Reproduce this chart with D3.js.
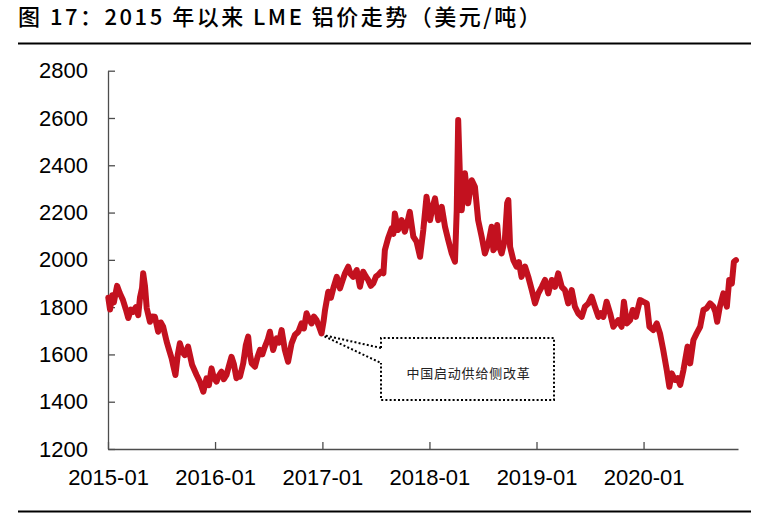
<!DOCTYPE html>
<html><head><meta charset="utf-8">
<script src="https://cdn.jsdelivr.net/npm/d3@7"></script>
<style>html,body{margin:0;padding:0;background:#fff}svg{display:block}</style>
</head><body>
<svg id="chart" width="776" height="516"></svg>
<script>
const titleText = "图 17：2015 年以来 LME 铝价走势（美元/吨）";
const noteText = "中国启动供给侧改革";
const noteDate = "2016-12-29";
const yTickValues = [1200, 1400, 1600, 1800, 2000, 2200, 2400, 2600, 2800];
const xTickLabels = ["2015-01", "2016-01", "2017-01", "2018-01", "2019-01", "2020-01"];

const dates = [
"2015-01-02","2015-01-08","2015-01-15","2015-01-21","2015-02-01","2015-02-10","2015-02-21","2015-03-03","2015-03-11","2015-03-20",
"2015-03-27","2015-04-06","2015-04-14","2015-04-20","2015-04-27","2015-05-01","2015-05-07","2015-05-13","2015-05-24","2015-05-31",
"2015-06-10","2015-06-21","2015-06-30","2015-07-08","2015-07-20","2015-07-28","2015-08-06","2015-08-12","2015-08-19","2015-08-27",
"2015-09-03","2015-09-12","2015-09-20","2015-10-01","2015-10-15","2015-10-30","2015-11-10","2015-11-22","2015-12-03","2015-12-11",
"2015-12-20","2015-12-28","2016-01-06","2016-01-14","2016-01-23","2016-01-31","2016-02-09","2016-02-17","2016-02-26","2016-03-05",
"2016-03-14","2016-03-22","2016-03-26","2016-04-06","2016-04-15","2016-04-23","2016-04-29","2016-05-05","2016-05-16","2016-05-25",
"2016-06-02","2016-06-10","2016-06-19","2016-06-28","2016-07-06","2016-07-17","2016-07-29","2016-08-06","2016-08-15","2016-08-26",
"2016-09-06","2016-09-18","2016-09-29","2016-10-11","2016-10-22","2016-10-30","2016-11-08","2016-11-16","2016-11-25","2016-12-03",
"2016-12-12","2016-12-20","2016-12-29","2017-01-05","2017-01-10","2017-01-21","2017-01-30","2017-02-07","2017-02-19","2017-03-02",
"2017-03-10","2017-03-19","2017-03-30","2017-04-07","2017-04-16","2017-04-28","2017-05-09","2017-05-20","2017-05-29","2017-06-06",
"2017-06-15","2017-06-23","2017-07-03","2017-07-10","2017-07-20","2017-07-28","2017-08-02","2017-08-13","2017-08-25","2017-08-31",
"2017-09-05","2017-09-16","2017-09-28","2017-10-09","2017-10-18","2017-10-26","2017-11-07","2017-11-18","2017-11-30","2017-12-11",
"2017-12-22","2018-01-03","2018-01-11","2018-01-20","2018-01-31","2018-02-12","2018-02-23","2018-03-06","2018-03-18","2018-03-29",
"2018-04-04","2018-04-09","2018-04-15","2018-04-21","2018-04-27","2018-05-02","2018-05-13","2018-05-25","2018-06-05","2018-06-16",
"2018-06-28","2018-07-09","2018-07-21","2018-08-01","2018-08-07","2018-08-12","2018-08-20","2018-08-26","2018-09-04","2018-09-15",
"2018-09-23","2018-09-27","2018-10-03","2018-10-14","2018-10-25","2018-11-02","2018-11-11","2018-11-23","2018-12-04","2018-12-16",
"2018-12-27","2019-01-07","2019-01-19","2019-01-30","2019-02-10","2019-02-22","2019-03-05","2019-03-16","2019-03-28","2019-04-08",
"2019-04-19","2019-05-01","2019-05-12","2019-05-23","2019-06-04","2019-06-15","2019-06-27","2019-07-08","2019-07-19","2019-07-31",
"2019-08-09","2019-08-17","2019-08-28","2019-09-09","2019-09-20","2019-10-07","2019-10-18","2019-10-26","2019-11-05","2019-11-16",
"2019-11-25","2019-12-06","2019-12-20","2019-12-31","2020-01-12","2020-01-21","2020-02-03","2020-02-15","2020-02-26","2020-03-08",
"2020-03-20","2020-03-29","2020-04-06","2020-04-17","2020-04-26","2020-05-05","2020-05-16","2020-05-30","2020-06-08","2020-06-19",
"2020-06-30","2020-07-12","2020-07-23","2020-08-03","2020-08-15","2020-08-26","2020-09-02","2020-09-08","2020-09-17","2020-09-29",
"2020-10-11","2020-10-19","2020-10-28","2020-11-04","2020-11-11"
];
const prices = [
1840,1790,1850,1820,1890,1860,1830,1790,1754,1790,
1780,1800,1766,1840,1880,1943,1890,1796,1738,1760,
1759,1696,1735,1717,1654,1620,1583,1550,1513,1600,
1647,1610,1597,1633,1555,1513,1485,1442,1499,1470,
1541,1500,1485,1510,1527,1495,1513,1550,1590,1560,
1499,1520,1506,1562,1640,1675,1600,1562,1548,1590,
1619,1600,1633,1660,1696,1619,1668,1650,1703,1619,
1569,1647,1682,1696,1731,1710,1774,1750,1731,1760,
1745,1720,1689,1740,1788,1865,1840,1879,1928,1879,
1910,1943,1971,1940,1928,1957,1886,1950,1930,1915,
1890,1900,1930,1936,1950,1943,2041,2091,2133,2110,
2196,2126,2168,2119,2160,2203,2098,2077,2013,2126,
2267,2168,2220,2260,2168,2224,2140,2084,2027,1992,
2210,2591,2351,2210,2300,2366,2239,2337,2309,2168,
2098,2027,2070,2140,2041,2050,2147,2060,2027,2084,
2240,2253,2055,1999,1971,1990,1928,1971,1928,1872,
1816,1858,1886,1915,1858,1915,1886,1943,1886,1872,
1816,1872,1802,1774,1759,1802,1816,1844,1802,1759,
1775,1759,1823,1774,1717,1745,1717,1823,1731,1745,
1788,1759,1830,1823,1816,1717,1703,1731,1689,1619,
1534,1463,1520,1492,1500,1471,1534,1633,1562,1661,
1689,1717,1788,1795,1816,1802,1780,1738,1802,1858,
1802,1915,1900,1992,1999
];

const parse = d3.timeParse("%Y-%m-%d");
const series = dates.map((d, i) => ({ date: parse(d), value: prices[i] }));

const svg = d3.select("#chart");
const plotLeft = 108, plotRight = 738, plotTop = 70.7, plotBottom = 449;

const x = d3.scaleTime()
  .domain([parse("2015-01-01"), parse("2020-11-18")])
  .range([plotLeft, plotRight]);
const y = d3.scaleLinear().domain([1200, 2800]).range([plotBottom, plotTop]);

// title and rules
svg.append("text")
  .attr("x", 18).attr("y", 25)
  .attr("font-family", "'Noto Sans CJK SC', sans-serif")
  .attr("font-size", 22).attr("font-weight", 500).attr("letter-spacing", 2.5).attr("fill", "#000")
  .text(titleText);
svg.append("line").attr("x1", 18).attr("x2", 751).attr("y1", 43.5).attr("y2", 43.5)
  .attr("stroke", "#000").attr("stroke-width", 2.2);
svg.append("line").attr("x1", 18).attr("x2", 751).attr("y1", 511.5).attr("y2", 511.5)
  .attr("stroke", "#000").attr("stroke-width", 2.2);

// axes
const axisColor = "#4d4d4d";
const yAxis = d3.axisLeft(y).tickValues(yTickValues).tickSize(-7).tickSizeOuter(0).tickPadding(20)
  .tickFormat(d3.format("d"));
const gy = svg.append("g").attr("transform", `translate(${plotLeft},0)`).call(yAxis);

const xTickDates = xTickLabels.map(s => d3.timeParse("%Y-%m")(s));
const xAxis = d3.axisBottom(x).tickValues(xTickDates).tickSize(-7).tickSizeOuter(0).tickPadding(20)
  .tickFormat(d3.timeFormat("%Y-%m"));
const gx = svg.append("g").attr("transform", `translate(0,${plotBottom})`).call(xAxis);

[gx, gy].forEach(g => {
  g.select(".domain").attr("stroke", axisColor).attr("stroke-width", 1.3);
  g.selectAll(".tick line").attr("stroke", axisColor).attr("stroke-width", 1.3);
  g.selectAll(".tick text")
    .attr("font-family", "'Liberation Sans', Arial, sans-serif")
    .attr("font-size", 22).attr("fill", "#000");
});

// line
const line = d3.line().x(d => x(d.date)).y(d => y(d.value));
svg.append("path").datum(series)
  .attr("fill", "none").attr("stroke", "#c3111f")
  .attr("stroke-width", 6).attr("stroke-linejoin", "round").attr("stroke-linecap", "round")
  .attr("d", line);

// annotation callout
const ax = x(parse(noteDate)) + 3, ay = y(prices[dates.indexOf(noteDate)]) + 2;
const bx0 = 381, bx1 = 554, by0 = 338, by1 = 400, c0 = 348, c1 = 363;
const dot = { stroke: "#000", "stroke-width": 2, "stroke-dasharray": "2,2.2", fill: "none" };
const ann = svg.append("path")
  .attr("d", `M${bx0},${c0} L${bx0},${by0} L${bx1},${by0} L${bx1},${by1} L${bx0},${by1} L${bx0},${c1}`);
Object.entries(dot).forEach(([k, v]) => ann.attr(k, v));
const ann2 = svg.append("path")
  .attr("d", `M${bx0},${c0} L${ax},${ay} M${ax},${ay + 1} L${bx0},${c1}`);
Object.entries(dot).forEach(([k, v]) => ann2.attr(k, v));
svg.append("text")
  .attr("x", (bx0 + bx1) / 2 + 1).attr("y", 378)
  .attr("text-anchor", "middle")
  .attr("font-family", "'Noto Sans CJK SC', sans-serif")
  .attr("font-size", 13).attr("letter-spacing", 0.8).attr("fill", "#222")
  .text(noteText);
</script>
</body></html>
